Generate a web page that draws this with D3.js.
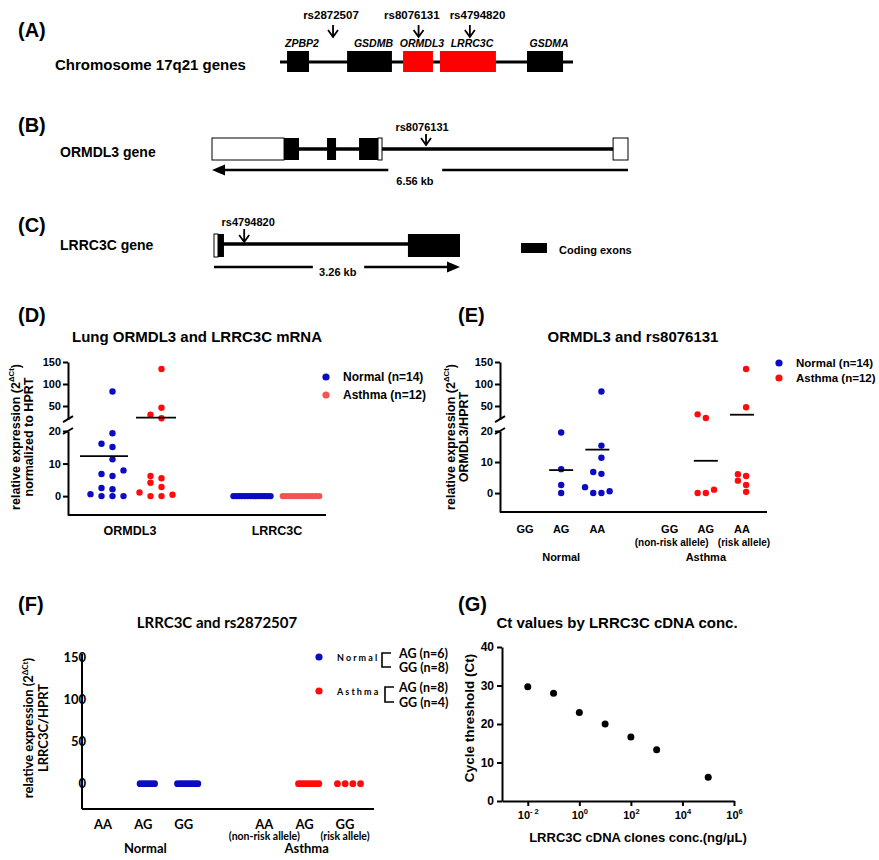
<!DOCTYPE html>
<html>
<head>
<meta charset="utf-8">
<script src="https://cdn.jsdelivr.net/npm/d3@7"></script>
<style>
body { margin: 0; background: #fff; }
svg { display: block; }
text { font-family: "Liberation Sans", Arial, sans-serif; font-weight: bold; fill: #000; }
</style>
</head>
<body>
<svg id="fig" width="879" height="860"></svg>
<script>
// (A) chromosome 17q21, schematic map units 0-100
var chrGenes = ["ZPBP2", "GSDMB", "ORMDL3", "LRRC3C", "GSDMA"];
var chrStart = [2.4, 22.9, 42.0, 54.6, 84.3];
var chrEnd = [9.9, 38.2, 52.2, 73.7, 96.6];
var chrHighlight = [false, false, true, true, false];
var chrSnps = ["rs2872507", "rs8076131", "rs4794820"];
var chrSnpPos = [18.1, 47.3, 64.8];
var chrSnpLabelPos = [17.4, 45.0, 67.4];

// (B) ORMDL3 gene (kb)
var ormLength = 6.56;
var ormUtr = [[0, 1.136], [2.618, 2.681], [6.325, 6.56]];
var ormExons = [[1.136, 1.372], [1.814, 1.956], [2.319, 2.618]];
var ormSnp = 3.375;

// (C) LRRC3C gene (kb)
var lrrLength = 3.26;
var lrrUtr = [[0, 0.053]];
var lrrExons = [[0.053, 0.132], [2.57, 3.26]];
var lrrSnp = 0.40;

// (D) lung mRNA
var dCats = ["ORMDL3", "LRRC3C"];
var dOrmNormal = [83, 19.3, 16.1, 15.1, 11.3, 6.2, 6.8, 7.9, 2.1, 2.5, 0.6, 0, 0, 0];
var dOrmAsthma = [134, 46, 30, 22, 6.2, 5.5, 4.1, 2.8, 1.1, 0.4, 0, 0];
var dLrrNormal = [0, 0, 0, 0, 0, 0, 0, 0, 0, 0, 0, 0, 0, 0];
var dLrrAsthma = [0, 0, 0, 0, 0, 0, 0, 0, 0, 0, 0, 0];
var dMeanNormal = [12.3, null];
var dMeanAsthma = [23.4, null];
var brokenLowTicks = [0, 10, 20];
var brokenHighTicks = [50, 100, 150];

// (E) ORMDL3 by rs8076131
var eGenotypes = ["GG", "AG", "AA"];
var eNotes = ["(non-risk allele)", "", "(risk allele)"];
var eNormal = [[], [19.5, 7.7, 2.6, 0], [83, 15.3, 11.4, 6.2, 6.8, 1.9, 0.6, 0, 0]];
var eAsthma = [[], [31, 22.7, 1.1, 0, 0], [134, 47, 6.1, 5.5, 4.0, 2.6, 0.4]];
var eMeanNormal = [null, 7.4, 14.0];
var eMeanAsthma = [null, 10.4, 30.2];

// (F) LRRC3C by rs2872507
var fGenotypes = ["AA", "AG", "GG"];
var fNotes = ["(non-risk allele)", "", "(risk allele)"];
var fNormal = [[], [0, 0, 0, 0, 0, 0], [0, 0, 0, 0, 0, 0, 0, 0]];
var fAsthma = [[], [0, 0, 0, 0, 0, 0, 0, 0], [0, 0, 0, 0]];
var fTicks = [0, 50, 100, 150];
var fLegendCounts = [["AG (n=6)", "GG (n=8)"], ["AG (n=8)", "GG (n=4)"]];

// (G) standard curve
var gConc = [0.01, 0.1, 1, 10, 100, 1000, 100000];
var gCt = [29.7, 28.0, 23.0, 20.0, 16.6, 13.3, 6.2];
var gYTicks = [0, 10, 20, 30, 40];
var gXTicks = [1e-2, 1, 1e2, 1e4, 1e6];

var groups = ["Normal", "Asthma"];
var BLUE = "#0b0bc2", RED = "#ff0b0b", PINK = "#f25353";
var FONT = "'Liberation Sans', Arial, sans-serif";
var CAL = "Lato, 'Open Sans', sans-serif";

var svg = d3.select("#fig");
svg.append("rect").attr("width", 879).attr("height", 860).attr("fill", "#fff");

function txt(g, x, y, s, size, anchor, font) {
  return g.append("text").attr("x", x).attr("y", y)
    .attr("text-anchor", anchor || "start")
    .style("font-size", size + "px")
    .style("font-family", font || null)
    .text(s);
}

function downArrow(g, x, y1, y2) {
  g.append("path")
    .attr("d", "M" + x + "," + y1 + "V" + y2 + "M" + (x - 5) + "," + (y2 - 7) + "L" + x + "," + y2 + "L" + (x + 5) + "," + (y2 - 7))
    .attr("fill", "none").attr("stroke", "#000").attr("stroke-width", 1.8);
}

// ---------- (A) ----------
var gA = svg.append("g");
txt(gA, 18, 37, "(A)", 20);
txt(gA, 55, 69.5, "Chromosome 17q21 genes", 15);
var xA = d3.scaleLinear().domain([0, 100]).range([280, 573]);
gA.append("line").attr("x1", xA(0)).attr("x2", xA(100)).attr("y1", 62).attr("y2", 62)
  .attr("stroke", "#000").attr("stroke-width", 3);
gA.selectAll("rect.gene").data(chrGenes).enter().append("rect")
  .attr("x", function(d, i) { return xA(chrStart[i]); })
  .attr("width", function(d, i) { return xA(chrEnd[i]) - xA(chrStart[i]); })
  .attr("y", 51).attr("height", 21)
  .attr("fill", function(d, i) { return chrHighlight[i] ? "#ff0000" : "#000"; });
gA.selectAll("text.gene").data(chrGenes).enter().append("text")
  .attr("x", function(d, i) { return xA((chrStart[i] + chrEnd[i]) / 2) + 4; })
  .attr("y", 47).attr("text-anchor", "middle")
  .style("font-size", "10.5px").style("font-style", "italic")
  .text(function(d) { return d; });
chrSnps.forEach(function(s, i) {
  txt(gA, xA(chrSnpLabelPos[i]), 18.5, s, 11.5, "middle");
  downArrow(gA, xA(chrSnpPos[i]), 25, 37);
});

// ---------- (B) ----------
var gB = svg.append("g");
txt(gB, 18, 132, "(B)", 20);
txt(gB, 60, 157, "ORMDL3 gene", 14);
var xB = d3.scaleLinear().domain([0, ormLength]).range([212, 628]);
gB.append("line").attr("x1", xB(0)).attr("x2", xB(ormLength)).attr("y1", 149).attr("y2", 149)
  .attr("stroke", "#000").attr("stroke-width", 3.5);
gB.selectAll("rect.utr").data(ormUtr).enter().append("rect")
  .attr("x", function(d) { return xB(d[0]); }).attr("width", function(d) { return xB(d[1]) - xB(d[0]); })
  .attr("y", 138).attr("height", 22).attr("fill", "#fff").attr("stroke", "#000").attr("stroke-width", 1);
gB.selectAll("rect.exon").data(ormExons).enter().append("rect")
  .attr("x", function(d) { return xB(d[0]); }).attr("width", function(d) { return xB(d[1]) - xB(d[0]); })
  .attr("y", 138).attr("height", 22).attr("fill", "#000");
txt(gB, xB(ormSnp) - 4, 131, "rs8076131", 11, "middle");
downArrow(gB, xB(ormSnp), 134, 145);
// length arrow (minus strand)
gB.append("line").attr("x1", xB(0) + 10).attr("x2", xB(2.78)).attr("y1", 170).attr("y2", 170).attr("stroke", "#000").attr("stroke-width", 2.5);
gB.append("line").attr("x1", xB(3.63)).attr("x2", xB(ormLength)).attr("y1", 170).attr("y2", 170).attr("stroke", "#000").attr("stroke-width", 2.5);
gB.append("path").attr("d", "M" + xB(0) + ",170l13,-5.5v11z").attr("fill", "#000");
txt(gB, xB(3.2), 185, ormLength + " kb", 11, "middle");

// ---------- (C) ----------
var gC = svg.append("g");
txt(gC, 18, 232, "(C)", 20);
txt(gC, 60, 250, "LRRC3C gene", 14);
var xC = d3.scaleLinear().domain([0, lrrLength]).range([214, 460]);
gC.append("line").attr("x1", xC(0)).attr("x2", xC(lrrLength)).attr("y1", 244).attr("y2", 244)
  .attr("stroke", "#000").attr("stroke-width", 3.5);
gC.selectAll("rect.utr").data(lrrUtr).enter().append("rect")
  .attr("x", function(d) { return xC(d[0]); }).attr("width", function(d) { return xC(d[1]) - xC(d[0]); })
  .attr("y", 234).attr("height", 23).attr("fill", "#fff").attr("stroke", "#000").attr("stroke-width", 1);
gC.selectAll("rect.exon").data(lrrExons).enter().append("rect")
  .attr("x", function(d) { return xC(d[0]); }).attr("width", function(d) { return xC(d[1]) - xC(d[0]); })
  .attr("y", 234).attr("height", 23).attr("fill", "#000");
txt(gC, xC(lrrSnp) + 4, 226, "rs4794820", 11, "middle");
downArrow(gC, xC(lrrSnp), 229, 242);
gC.append("line").attr("x1", xC(0)).attr("x2", xC(1.31)).attr("y1", 267).attr("y2", 267).attr("stroke", "#000").attr("stroke-width", 2.5);
gC.append("line").attr("x1", xC(1.99)).attr("x2", xC(lrrLength) - 10).attr("y1", 267).attr("y2", 267).attr("stroke", "#000").attr("stroke-width", 2.5);
gC.append("path").attr("d", "M" + xC(lrrLength) + ",267l-13,-5.5v11z").attr("fill", "#000");
txt(gC, xC(1.64), 276, lrrLength + " kb", 11, "middle");
gC.append("rect").attr("x", 521).attr("y", 243).attr("width", 26).attr("height", 10).attr("fill", "#000");
txt(gC, 559, 254, "Coding exons", 11);

// ---------- helpers for dot plots ----------
function swarm(vals, y, step, rad, maxHalf, dense) {
  var order = vals.map(function(v, i) { return i; })
    .sort(function(a, b) { return vals[a] - vals[b] || a - b; });
  var placed = [], offs = [];
  order.forEach(function(i) {
    var py = y(vals[i]);
    for (var k = 0; k < 500; k++) {
      var o = k === 0 ? 0 : (k % 2 ? -1 : 1) * Math.ceil(k / 2) * step;
      var hit = placed.some(function(p) {
        return Math.abs(p.y - py) < 2 * rad && Math.abs(p.o - o) < step * 0.99;
      });
      if (!hit) { placed.push({ y: py, o: o }); offs[i] = o; break; }
    }
  });
  if (!offs.length) return offs;
  var ext = d3.extent(offs), mid = (ext[0] + ext[1]) / 2;
  offs = offs.map(function(o) { return o - mid; });
  if (d3.max(offs, Math.abs) > maxHalf) offs = offs.map(function(o) { return o * dense / step; });
  return offs;
}

function dots(g, vals, cx, y, color, rad, step, maxHalf, dense) {
  var offs = swarm(vals, y, step, rad, maxHalf, dense);
  g.selectAll(null).data(vals).enter().append("circle")
    .attr("cx", function(d, i) { return cx + offs[i]; })
    .attr("cy", function(d) { return y(d); })
    .attr("r", rad).attr("fill", color);
}

function meanLine(g, m, cx, hw, y) {
  if (m == null) return;
  g.append("line").attr("x1", cx - hw).attr("x2", cx + hw).attr("y1", y(m)).attr("y2", y(m))
    .attr("stroke", "#000").attr("stroke-width", 1.8);
}

function brokenScale(lowDom, lowRange, highDom, highRange) {
  var lo = d3.scaleLinear().domain(lowDom).range(lowRange);
  var hi = d3.scaleLinear().domain(highDom).range(highRange);
  var f = function(v) { return v <= lowDom[1] ? lo(v) : hi(v); };
  f.lo = lo; f.hi = hi;
  return f;
}

function styleAxis(sel, size, font) {
  sel.select(".domain").attr("stroke-width", 2).attr("stroke", "#000");
  sel.selectAll(".tick line").attr("stroke-width", 2).attr("stroke", "#000");
  sel.selectAll(".tick text").style("font-size", size + "px").style("font-family", font || FONT)
    .style("font-weight", "bold").attr("fill", "#000");
}

function brokenAxis(g, y, x0, xEnd) {
  [[y.lo, brokenLowTicks], [y.hi, brokenHighTicks]].forEach(function(p) {
    g.append("g").attr("transform", "translate(" + x0 + ",0)")
      .call(d3.axisLeft(p[0]).tickValues(p[1]).tickSizeInner(5).tickSizeOuter(0).tickPadding(2))
      .call(styleAxis, 11);
  });
  [y.lo.range()[1], y.hi.range()[0]].forEach(function(by) {
    g.append("line").attr("x1", x0 - 5).attr("x2", x0 + 5).attr("y1", by + 3).attr("y2", by - 3)
      .attr("stroke", "#000").attr("stroke-width", 2);
  });
  var yb = y.lo.range()[0];
  g.append("line").attr("x1", x0).attr("x2", xEnd).attr("y1", yb).attr("y2", yb)
    .attr("stroke", "#000").attr("stroke-width", 2);
}

function rotLabel(g, x, cy, lines, size, font) {
  lines.forEach(function(l, i) {
    var t = g.append("text").attr("transform", "translate(" + x[i] + "," + cy + ") rotate(-90)")
      .attr("text-anchor", "middle").style("font-size", size + "px").style("font-family", font || null);
    if (l.sup) {
      t.append("tspan").text(l.text);
      t.append("tspan").attr("dy", -size * 0.42).style("font-size", (size * 0.62) + "px").text(l.sup);
      t.append("tspan").attr("dy", size * 0.42).text(")");
    } else {
      t.text(l.text);
    }
  });
}

function legend(g, x, ys, labels, colors, size) {
  labels.forEach(function(l, i) {
    g.append("circle").attr("cx", x).attr("cy", ys[i]).attr("r", 3.6).attr("fill", colors[i]);
    txt(g, x + 17, ys[i] + size * 0.36, l, size);
  });
}

// ---------- (D) ----------
var gD = svg.append("g");
txt(gD, 18, 322, "(D)", 20);
txt(gD, 197, 342, "Lung ORMDL3 and LRRC3C mRNA", 15, "middle");
var yD = brokenScale([-5.8, 20], [515, 431], [20, 150], [419.2, 362]);
var xD = d3.scalePoint().domain(dCats).range([130, 277]);
brokenAxis(gD, yD, 68, 326);
rotLabel(gD, [19.5, 32.5], 437, [{ text: "relative expression  (2", sup: "\u0394Ct" }, { text: "normalized to HPRT" }], 12.5);
dCats.forEach(function(c) { txt(gD, xD(c), 534.5, c, 12.5, "middle"); });
dots(gD, dOrmNormal, xD("ORMDL3") - 23, yD, BLUE, 3.2, 11, 30, 3);
dots(gD, dOrmAsthma, xD("ORMDL3") + 26, yD, RED, 3.2, 11, 30, 3);
dots(gD, dLrrNormal, xD("LRRC3C") - 25, yD, BLUE, 3.2, 11, 30, 2.85);
dots(gD, dLrrAsthma, xD("LRRC3C") + 24, yD, PINK, 3.2, 11, 30, 3.3);
dCats.forEach(function(c, i) {
  meanLine(gD, dMeanNormal[i], xD(c) - 26, 24, yD);
  meanLine(gD, dMeanAsthma[i], xD(c) + 26, 20, yD);
});
legend(gD, 326, [377, 395], ["Normal (n=" + dOrmNormal.length + ")", "Asthma (n=" + dOrmAsthma.length + ")"], [BLUE, PINK], 12);

// ---------- (E) ----------
var gE = svg.append("g");
txt(gE, 458, 322, "(E)", 20);
txt(gE, 633, 342, "ORMDL3 and rs8076131", 15, "middle");
var yE = brokenScale([-6.1, 20], [512, 431], [20, 150], [419.2, 362]);
var xE = d3.scaleLinear().domain([0, 6]).range([525, 742]);
brokenAxis(gE, yE, 500, 767);
rotLabel(gE, [454.5, 467.5], 437, [{ text: "relative expression  (2", sup: "\u0394Ct" }, { text: "ORMDL3/HPRT" }], 12.5);
groups.forEach(function(gr, gi) {
  var data = gi ? eAsthma : eNormal, means = gi ? eMeanAsthma : eMeanNormal;
  eGenotypes.forEach(function(gt, k) {
    var cx = xE(gi * 4 + k);
    txt(gE, cx, 533, gt, 11, "middle");
    if (gi) txt(gE, cx + 2, 545.5, eNotes[k], 10, "middle");
    dots(gE, data[k], cx, yE, gi ? RED : BLUE, 3.2, 8.2, 30, 3);
    meanLine(gE, means[k], cx, 12, yE);
  });
  txt(gE, xE(gi * 4 + 1), 561, gr, 11, "middle");
});
legend(gE, 779, [363, 378], ["Normal (n=14)", "Asthma (n=12)"], [BLUE, RED], 11.5);

// ---------- (F) ----------
var gF = svg.append("g");
txt(gF, 18, 611, "(F)", 20);
txt(gF, 217, 628, "LRRC3C and rs2872507", 15, "middle", CAL);
var yF = d3.scaleLinear().domain([-30, 150]).range([809, 657]);
var xF = d3.scaleLinear().domain([0, 6]).range([107, 349]);
gF.append("g").attr("transform", "translate(82,0)")
  .call(d3.axisLeft(yF).tickValues(fTicks).tickSizeInner(0).tickSizeOuter(0).tickPadding(-4))
  .call(styleAxis, 13, CAL)
  .select(".domain").attr("d", "M0,654V809");
gF.append("line").attr("x1", 82).attr("x2", 374).attr("y1", 809).attr("y2", 809).attr("stroke", "#000").attr("stroke-width", 2);
rotLabel(gF, [33, 48], 728, [{ text: "relative expression (2", sup: "\u0394Ct" }, { text: "LRRC3C/HPRT" }], 13, CAL);
groups.forEach(function(gr, gi) {
  var data = gi ? fAsthma : fNormal;
  fGenotypes.forEach(function(gt, k) {
    var cx = xF(gi * 4 + k);
    txt(gF, cx - 4, 828.5, gt, 13, "middle", CAL);
    if (gi) txt(gF, cx - 4, 840, fNotes[k], 10.5, "middle", CAL);
    dots(gF, data[k], cx, yF, gi ? RED : BLUE, 3.4, 7.7, 12, 2.9);
  });
  txt(gF, xF(gi * 4 + 1) - 2, 852.5, gr, 13, "middle", CAL);
});
[[657, 653, 667, 382], [691, 687, 702, 385]].forEach(function(r, i) {
  gF.append("circle").attr("cx", 319).attr("cy", r[0]).attr("r", 3.6).attr("fill", i ? RED : BLUE);
  txt(gF, 337, r[0] + 3.5, groups[i], 9, "start", CAL).style("letter-spacing", "2.1px");
  gF.append("path").attr("d", "M" + (r[3] + 9) + "," + r[1] + "H" + r[3] + "V" + r[2] + "H" + (r[3] + 9))
    .attr("fill", "none").attr("stroke", "#000").attr("stroke-width", 1.6);
  txt(gF, 399, r[1] + 4.5, fLegendCounts[i][0], 12.5, "start", CAL);
  txt(gF, 399, r[2] + 4.5, fLegendCounts[i][1], 12.5, "start", CAL);
});

// ---------- (G) ----------
var gG = svg.append("g");
txt(gG, 458, 611, "(G)", 20);
txt(gG, 617, 628, "Ct values by LRRC3C cDNA conc.", 15, "middle");
var xG = d3.scaleLog().domain([1e-3, 1e6]).range([502, 734]);
var yG = d3.scaleLinear().domain([0, 40]).range([801, 647]);
gG.append("g").attr("transform", "translate(502,0)")
  .call(d3.axisLeft(yG).tickValues(gYTicks).tickSizeInner(5).tickSizeOuter(0).tickPadding(3))
  .call(styleAxis, 12);
var gx = gG.append("g").attr("transform", "translate(0,801)")
  .call(d3.axisBottom(xG).tickValues(gXTicks).tickSizeInner(5).tickSizeOuter(0).tickPadding(5).tickFormat(function() { return ""; }))
  .call(styleAxis, 11);
gx.selectAll(".tick text").each(function(d) {
  var t = d3.select(this);
  t.append("tspan").text("10");
  t.append("tspan").attr("dy", -5).style("font-size", "7.5px").text(String(Math.round(Math.log10(d))).replace("-", "- "));
});
rotLabel(gG, [474, 0], 718, [{ text: "Cycle threshold (Ct)" }], 13.5);
txt(gG, 638, 842, "LRRC3C cDNA clones conc.(ng/\u03bcL)", 13, "middle");
gG.selectAll("circle.pt").data(gConc).enter().append("circle")
  .attr("cx", function(d) { return xG(d); })
  .attr("cy", function(d, i) { return yG(gCt[i]); })
  .attr("r", 3.5).attr("fill", "#000");
</script>
</body>
</html>
